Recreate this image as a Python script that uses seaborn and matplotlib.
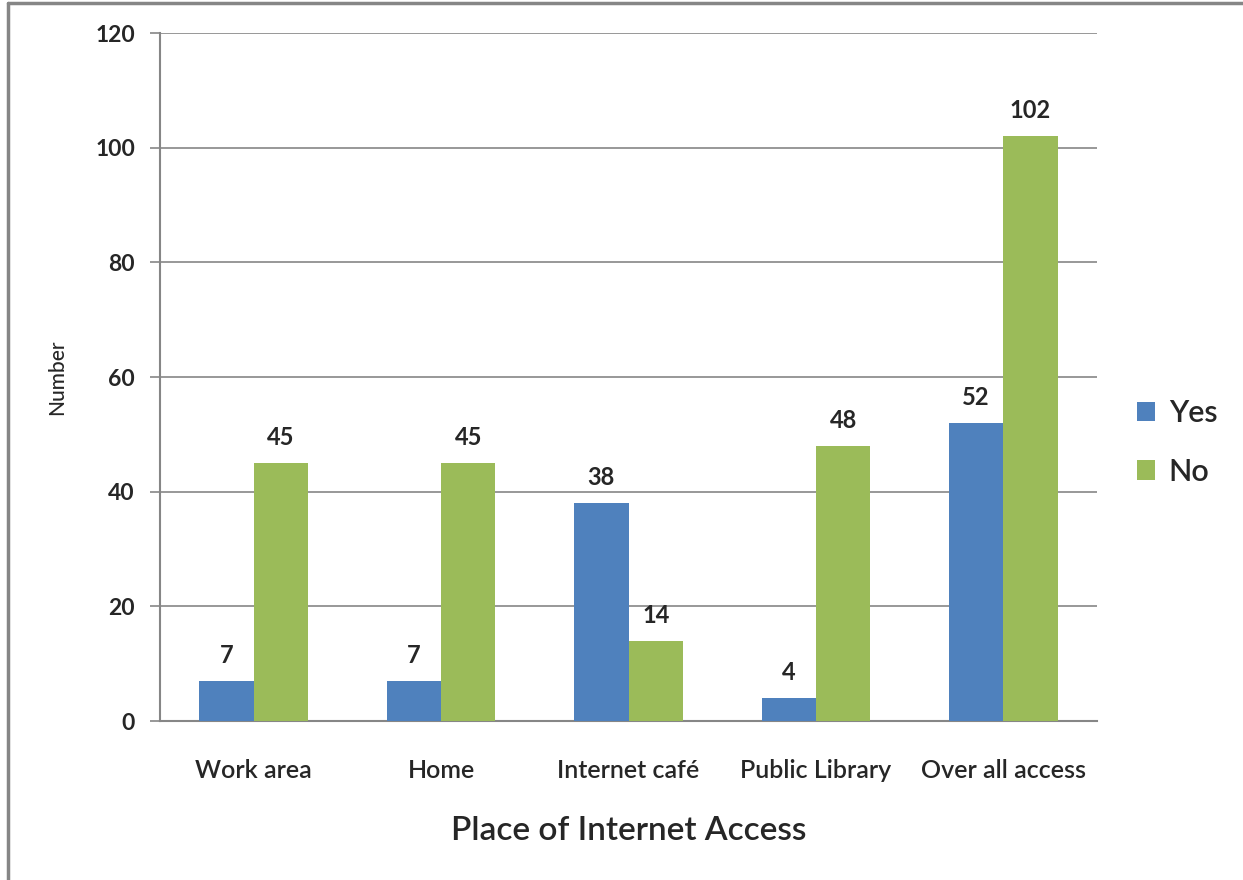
import matplotlib
matplotlib.use("Agg")
import matplotlib.pyplot as plt
import seaborn as sns
import pandas as pd
from matplotlib.lines import Line2D

categories = ["Work area", "Home", "Internet café", "Public Library", "Over all access"]
yes_values = [7, 7, 38, 4, 52]
no_values = [45, 45, 14, 48, 102]
series_names = ["Yes", "No"]
y_ticks = [0, 20, 40, 60, 80, 100, 120]

sns.set_theme(style="white")
plt.rcParams['font.family'] = ['Lato', 'DejaVu Sans']

df = pd.DataFrame({
    "Place": categories * 2,
    "Series": [series_names[0]] * len(categories) + [series_names[1]] * len(categories),
    "Number": yes_values + no_values,
})

fig = plt.figure(figsize=(12.43, 8.8), dpi=100)
ax = fig.add_axes([160 / 1243, 1 - 721 / 880, (1097 - 160) / 1243, (721 - 33) / 880])

palette = {"Yes": "#4F81BD", "No": "#9BBB59"}
sns.barplot(data=df, x="Place", y="Number", hue="Series", palette=palette,
            width=0.58, gap=0, saturation=1, ax=ax, legend=True, zorder=3,
            linewidth=0, edgecolor="none")

ax.set_ylim(0, 120)
ax.set_yticks(y_ticks)
ax.set_yticklabels([str(t) for t in y_ticks], fontsize=16.5, fontweight="bold")
ax.grid(axis="y", color="#868686", linewidth=1.2, zorder=0)
ax.set_axisbelow(True)
for s in ["top", "right"]:
    ax.spines[s].set_visible(False)
for s in ["left", "bottom"]:
    ax.spines[s].set_color("#868686")
    ax.spines[s].set_linewidth(1.5)
ax.tick_params(axis="y", length=7, width=1.2, color="#868686", pad=11, left=True)
ax.tick_params(axis="x", length=0, pad=27, labelsize=18)
for lbl in ax.get_xticklabels():
    lbl.set_fontweight("semibold")
ax.set_xlim(-0.5, len(categories) - 0.5)

for container in ax.containers:
    ax.bar_label(container, fmt="%d", padding=10, fontsize=17, fontweight="bold")

ax.set_xlabel("Place of Internet Access", fontsize=24, labelpad=25, fontweight="semibold")
ax.set_ylabel("Number", fontsize=15, labelpad=20, fontweight="medium")

leg = ax.legend(loc="center left", bbox_to_anchor=(1.013, 0.405), frameon=False,
                fontsize=22, handlelength=0.6, handleheight=0.6, labelspacing=1.0,
                handletextpad=0.45)
for t in leg.get_texts():
    t.set_fontweight("semibold")

# outer border (left and top)
fig.add_artist(Line2D([8 / 1243, 8 / 1243], [0, 1 - 3 / 880], transform=fig.transFigure,
                      color="#868686", linewidth=2.5))
fig.add_artist(Line2D([8 / 1243, 1], [1 - 3 / 880, 1 - 3 / 880], transform=fig.transFigure,
                      color="#868686", linewidth=2.5))

fig.savefig("out.png", dpi=100)
